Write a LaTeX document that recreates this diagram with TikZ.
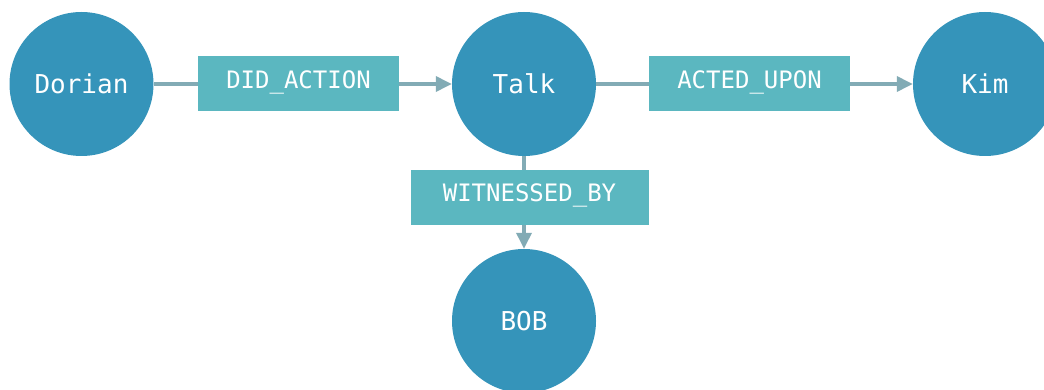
\documentclass[tikz,border=0pt]{standalone}
\usepackage{fontspec}
\setmonofont{DejaVu Sans Mono}
\usetikzlibrary{arrows.meta}
\definecolor{nodeblue}{HTML}{3594BA}
\definecolor{relteal}{HTML}{5BB7C0}
\definecolor{edgegray}{HTML}{82ABB5}
\tikzset{
  entity/.style={circle, fill=nodeblue, minimum size=144pt, inner sep=0pt,
    text=white, font=\ttfamily\fontsize{26}{30}\selectfont},
  relation/.style={rectangle, fill=relteal, minimum height=55pt, inner sep=0pt,
    text=white, font=\ttfamily\fontsize{24}{28}\selectfont,
    text height=12pt, text depth=3pt},
  link/.style={draw=edgegray, line width=3.5pt},
  linkarrow/.style={link, -{Triangle[length=16pt,width=15pt]}}
}
\begin{document}
\begin{tikzpicture}[x=1pt,y=-1pt]
\useasboundingbox (0,0) rectangle (1044,390);
\clip (0,0) rectangle (1044,390);
\node[entity] (dorian) at (81.5,84) {Dorian};
\node[entity] (talk) at (524,84) {Talk};
\node[entity] (kim) at (985,84) {Kim};
\node[entity] (bob) at (524,321) {BOB};
\node[relation, minimum width=201pt] (did) at (298.5,84) {DID\_ACTION};
\node[relation, minimum width=201pt] (acted) at (749.5,84) {ACTED\_UPON};
\node[relation, minimum width=238pt] (wit) at (529.5,197.5) {WITNESSED\_BY};
\draw[link] (dorian) -- (did);
\draw[linkarrow] (did) -- (talk);
\draw[link] (talk) -- (acted);
\draw[linkarrow] (acted) -- (kim);
\draw[link] (talk) -- (talk |- wit.north);
\draw[linkarrow] (talk |- wit.south) -- (bob);
\end{tikzpicture}
\end{document}
